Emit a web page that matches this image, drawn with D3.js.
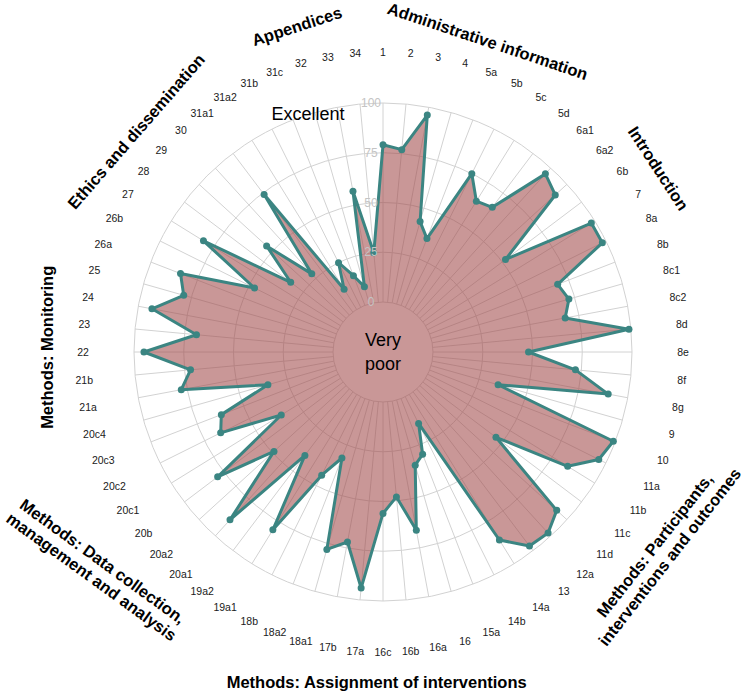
<!DOCTYPE html>
<html>
<meta charset="utf-8">
<script src="https://d3js.org/d3.v7.min.js"></script>
<style>
    body { margin: 0; background: #fff; }
    svg { font-family: "Liberation Sans", Arial, sans-serif; }
</style>
<body>
    <svg width="750" height="695"></svg>
    <script>
        // checklist items, clockwise from the top
        const items = ["1", "2", "3", "4", "5a", "5b", "5c", "5d", "6a1", "6a2", "6b", "7",
            "8a", "8b", "8c1", "8c2", "8d", "8e", "8f", "8g", "9", "10", "11a", "11b", "11c", "11d",
            "12a", "13", "14a", "14b", "15a", "16", "16a", "16b", "16c", "17a", "17b", "18a1", "18a2",
            "18b", "19a1", "19a2", "20a1", "20a2", "20b", "20c1", "20c2", "20c3", "20c4", "21a", "21b",
            "22", "23", "24", "25", "26a", "26b", "27", "28", "29", "30", "31a1", "31a2", "31b", "31c",
            "32", "33", "34"];

        const scores = [79, 77, 96, 43, 36, 75, 64, 66, 96, 92, 52, 98,
            98, 69, 72, 68, 99, 48, 72, 90, 35, 99, 96, 84, 46, 93,
            98, 97, 86, 15, 30, 34, 66, 48, 56, 94, 72, 78, 32,
            44, 80, 40, 89, 49, 79, 35, 66, 62, 35, 78, 72,
            95, 69, 93, 79, 84, 47, 81, 33, 54, 28, 74, 12, 25, 16,
            9, 57, 25];

        const radialTicks = [0, 25, 50, 75, 100];

        const sections = ["Administrative information", "Introduction",
            "Methods: Participants,|interventions and outcomes", "Methods: Assignment of interventions",
            "Methods: Data collection,|management and analysis", "Methods: Monitoring",
            "Ethics and dissemination", "Appendices"];

        // where each section title sits: polar angle (deg), radius, text rotation
        const sectionPlacement = [
            { a: 18.6, r: 328, rot: 18.6 },
            { a: 56.3, r: 331, rot: 57 },
            { a: 125.5, r: 343, rot: -52 },
            { a: 181.1, r: 330, rot: 0 },
            { a: 232.8, r: 359, rot: 36 },
            { a: 270.8, r: 336, rot: -90 },
            { a: 311.8, r: 331, rot: -49 },
            { a: 345.2, r: 337, rot: -18 }
        ];

        const svg = d3.select("svg");
        const cx = 383, cy = 352;
        const g = svg.append("g").attr("transform", `translate(${cx},${cy})`);

        const angle = d3.scaleBand().domain(items).range([0, 2 * Math.PI]).paddingInner(0).paddingOuter(0).align(0);
        const r = d3.scaleLinear().domain([0, 100]).range([50, 249]);

        const px = (a, rad) => rad * Math.sin(a);
        const py = (a, rad) => -rad * Math.cos(a);

        const data = items.map((d, i) => ({ item: d, value: scores[i] }));

        // grid
        const grid = g.append("g").attr("class", "grid");
        grid.selectAll("circle")
            .data(radialTicks)
            .enter().append("circle")
            .attr("r", d => r(d))
            .attr("fill", "none")
            .attr("stroke", "#d2d2d2")
            .attr("stroke-width", 1);

        grid.selectAll("line")
            .data(items)
            .enter().append("line")
            .attr("x1", d => px(angle(d), r(0)))
            .attr("y1", d => py(angle(d), r(0)))
            .attr("x2", d => px(angle(d), r(100)))
            .attr("y2", d => py(angle(d), r(100)))
            .attr("stroke", "#d2d2d2")
            .attr("stroke-width", 1);

        // area
        const radial = d3.lineRadial()
            .angle(d => angle(d.item))
            .radius(d => r(d.value))
            .curve(d3.curveLinearClosed);

        g.append("path")
            .datum(data)
            .attr("d", radial)
            .attr("fill", "#a04848")
            .attr("fill-opacity", 0.57)
            .attr("stroke", "#3b8582")
            .attr("stroke-width", 3)
            .attr("stroke-linejoin", "round");

        g.selectAll("circle.pt")
            .data(data)
            .enter().append("circle")
            .attr("class", "pt")
            .attr("cx", d => px(angle(d.item), r(d.value)))
            .attr("cy", d => py(angle(d.item), r(d.value)))
            .attr("r", 3.5)
            .attr("fill", "#3b8582");

        // radial tick labels
        g.selectAll("text.tick")
            .data(radialTicks)
            .enter().append("text")
            .attr("class", "tick")
            .attr("x", -12)
            .attr("y", d => -r(d))
            .attr("text-anchor", "middle")
            .attr("dominant-baseline", "central")
            .attr("font-size", 12)
            .attr("fill", "#c4c4c4")
            .text(d => d);

        // item labels
        g.selectAll("text.item")
            .data(items)
            .enter().append("text")
            .attr("class", "item")
            .attr("x", d => px(angle(d), 300))
            .attr("y", d => py(angle(d), 300))
            .attr("text-anchor", "middle")
            .attr("dominant-baseline", "central")
            .attr("font-size", 10.5)
            .attr("fill", "#1a1a1a")
            .text(d => d);

        // section titles
        sections.forEach((s, i) => {
            const p = sectionPlacement[i];
            const a = p.a * Math.PI / 180;
            const lines = s.split("|");
            const t = g.append("text")
                .attr("transform", `translate(${px(a, p.r)},${py(a, p.r)}) rotate(${p.rot})`)
                .attr("text-anchor", "middle")
                .attr("font-size", 16.5)
                .attr("font-weight", "bold")
                .attr("fill", "#000");
            lines.forEach((l, j) => {
                t.append("tspan")
                    .attr("x", 0)
                    .attr("y", (j - (lines.length - 1) / 2) * 19)
                    .attr("dy", "0.35em")
                    .text(l);
            });
        });

        // scale annotations
        g.append("text")
            .attr("x", -75).attr("y", -238)
            .attr("text-anchor", "middle")
            .attr("dominant-baseline", "central")
            .attr("font-size", 18)
            .text("Excellent");

        const vp = g.append("text")
            .attr("text-anchor", "middle")
            .attr("font-size", 18);
        vp.append("tspan").attr("x", 0).attr("y", -12).attr("dy", "0.35em").text("Very");
        vp.append("tspan").attr("x", 0).attr("y", 12).attr("dy", "0.35em").text("poor");
    </script>
</body>
</html>
